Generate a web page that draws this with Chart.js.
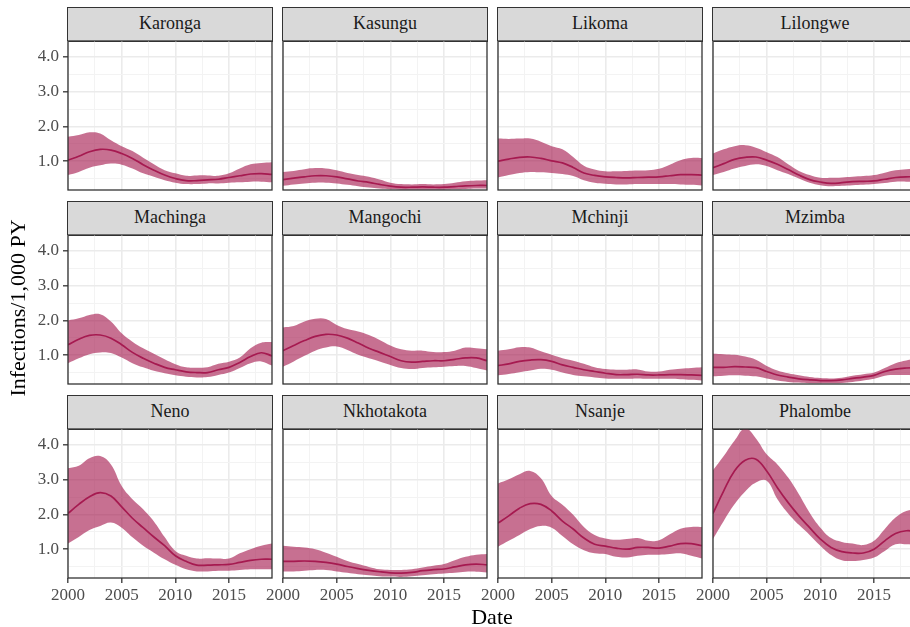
<!DOCTYPE html>
<html>
<head>
<meta charset="utf-8">
<script src="https://cdn.jsdelivr.net/npm/chart.js@4/dist/chart.umd.min.js"></script>
<style>
  html, body { margin: 0; padding: 0; background: #ffffff; overflow: hidden; }
  #fig { position: relative; width: 910px; height: 627px; overflow: hidden; font-family: 'Liberation Serif', serif; }
  #fig canvas { position: absolute; }
  .strip { position: absolute; box-sizing: border-box; background: #D9D9D9; border: 1.3px solid #333333;
           color: #1A1A1A; font-size: 18px; text-align: center; line-height: 31px; }
  .title { position: absolute; color: #000000; font-size: 22px; text-align: center; white-space: nowrap; }
</style>
</head>
<body>
<div id="fig"></div>
<script>
// Estimated HIV infections per 1,000 person-years, by district: median with 95% band
const years = [2000, 2001, 2002, 2003, 2004, 2005, 2006, 2007, 2008, 2009,
               2010, 2011, 2012, 2013, 2014, 2015, 2016, 2017, 2018, 2019];

const districts = ['Karonga', 'Kasungu', 'Likoma', 'Lilongwe',
                   'Machinga', 'Mangochi', 'Mchinji', 'Mzimba',
                   'Neno', 'Nkhotakota', 'Nsanje', 'Phalombe'];

const karongaLow  = [0.60,0.69,0.81,0.88,0.93,0.90,0.79,0.65,0.55,0.45,0.38,0.34,0.34,0.36,0.36,0.38,0.39,0.41,0.41,0.39];
const karongaMid  = [1.03,1.14,1.27,1.34,1.32,1.22,1.08,0.90,0.74,0.60,0.50,0.44,0.44,0.46,0.48,0.53,0.58,0.63,0.64,0.62];
const karongaHigh = [1.70,1.75,1.83,1.80,1.60,1.43,1.29,1.10,0.91,0.74,0.65,0.58,0.59,0.59,0.58,0.65,0.79,0.91,0.95,0.97];

const kasunguLow  = [0.29,0.33,0.36,0.38,0.38,0.36,0.32,0.28,0.24,0.21,0.19,0.18,0.18,0.18,0.18,0.18,0.19,0.20,0.21,0.21];
const kasunguMid  = [0.47,0.51,0.55,0.58,0.58,0.55,0.49,0.43,0.39,0.33,0.28,0.25,0.25,0.26,0.25,0.25,0.27,0.29,0.30,0.30];
const kasunguHigh = [0.69,0.72,0.77,0.80,0.79,0.74,0.66,0.60,0.55,0.47,0.38,0.34,0.33,0.34,0.33,0.34,0.38,0.42,0.44,0.45];

const likomaLow  = [0.53,0.60,0.66,0.69,0.68,0.66,0.63,0.57,0.45,0.38,0.35,0.33,0.33,0.34,0.34,0.34,0.34,0.33,0.32,0.30];
const likomaMid  = [1.00,1.06,1.11,1.12,1.08,1.01,0.95,0.82,0.66,0.59,0.55,0.53,0.52,0.53,0.54,0.55,0.58,0.61,0.61,0.60];
const likomaHigh = [1.65,1.64,1.65,1.65,1.56,1.43,1.34,1.12,0.87,0.76,0.71,0.71,0.72,0.73,0.74,0.78,0.90,1.03,1.09,1.09];

const lilongweLow  = [0.60,0.69,0.79,0.86,0.91,0.86,0.74,0.63,0.50,0.38,0.31,0.28,0.29,0.31,0.32,0.34,0.37,0.41,0.41,0.41];
const lilongweMid  = [0.81,0.93,1.05,1.11,1.12,1.03,0.91,0.76,0.60,0.47,0.40,0.36,0.38,0.41,0.42,0.43,0.48,0.53,0.55,0.55];
const lilongweHigh = [1.22,1.34,1.43,1.46,1.39,1.26,1.12,0.91,0.72,0.60,0.52,0.52,0.53,0.55,0.57,0.60,0.67,0.74,0.77,0.79];

const machingaLow  = [0.77,0.91,1.03,1.08,1.06,0.93,0.77,0.65,0.55,0.48,0.42,0.38,0.36,0.37,0.43,0.50,0.63,0.77,0.82,0.70];
const machingaMid  = [1.30,1.46,1.57,1.58,1.49,1.30,1.08,0.91,0.77,0.65,0.58,0.52,0.50,0.50,0.58,0.65,0.79,0.96,1.07,0.98];
const machingaHigh = [2.00,2.06,2.16,2.18,1.97,1.63,1.39,1.20,1.04,0.88,0.74,0.65,0.64,0.65,0.75,0.81,0.93,1.20,1.36,1.38];

const mangochiLow  = [0.67,0.82,0.98,1.13,1.22,1.25,1.15,1.01,0.91,0.82,0.72,0.63,0.60,0.63,0.65,0.67,0.69,0.69,0.63,0.56];
const mangochiMid  = [1.13,1.28,1.42,1.54,1.60,1.58,1.49,1.35,1.20,1.08,0.96,0.84,0.80,0.82,0.84,0.84,0.88,0.92,0.92,0.84];
const mangochiHigh = [1.80,1.84,1.97,2.05,2.04,1.87,1.75,1.68,1.58,1.44,1.28,1.17,1.13,1.13,1.09,1.09,1.13,1.22,1.20,1.17];

const mchinjiLow  = [0.42,0.46,0.51,0.56,0.61,0.58,0.50,0.43,0.39,0.36,0.33,0.32,0.32,0.33,0.32,0.32,0.32,0.31,0.29,0.27];
const mchinjiMid  = [0.70,0.75,0.82,0.86,0.87,0.82,0.72,0.65,0.58,0.53,0.48,0.44,0.44,0.45,0.43,0.43,0.44,0.44,0.43,0.42];
const mchinjiHigh = [1.13,1.17,1.23,1.22,1.11,1.01,0.91,0.84,0.75,0.65,0.60,0.58,0.58,0.59,0.53,0.53,0.58,0.61,0.63,0.65];

const mzimbaLow  = [0.39,0.41,0.42,0.41,0.39,0.33,0.27,0.23,0.21,0.19,0.19,0.19,0.20,0.23,0.27,0.32,0.41,0.43,0.43,0.42];
const mzimbaMid  = [0.65,0.65,0.67,0.66,0.64,0.53,0.43,0.37,0.32,0.29,0.27,0.27,0.29,0.33,0.37,0.42,0.53,0.60,0.63,0.64];
const mzimbaHigh = [1.04,1.03,1.01,0.96,0.87,0.69,0.56,0.48,0.42,0.37,0.34,0.33,0.35,0.41,0.45,0.50,0.63,0.77,0.85,0.88];

const nenoLow  = [1.16,1.35,1.55,1.67,1.77,1.62,1.34,1.10,0.90,0.71,0.55,0.42,0.36,0.36,0.38,0.38,0.40,0.42,0.42,0.42];
const nenoMid  = [2.03,2.29,2.51,2.63,2.53,2.22,1.89,1.62,1.35,1.10,0.81,0.65,0.54,0.54,0.55,0.56,0.62,0.68,0.71,0.71];
const nenoHigh = [3.33,3.40,3.62,3.68,3.44,2.82,2.44,2.15,1.80,1.35,0.95,0.81,0.73,0.74,0.73,0.73,0.88,1.00,1.10,1.16];

const nkhotakotaLow  = [0.36,0.36,0.38,0.40,0.40,0.36,0.32,0.28,0.25,0.22,0.21,0.20,0.22,0.25,0.28,0.30,0.32,0.35,0.35,0.33];
const nkhotakotaMid  = [0.65,0.65,0.66,0.65,0.62,0.57,0.50,0.44,0.39,0.35,0.32,0.31,0.33,0.38,0.41,0.43,0.49,0.55,0.57,0.55];
const nkhotakotaHigh = [1.10,1.07,1.05,1.00,0.90,0.78,0.66,0.57,0.49,0.42,0.40,0.40,0.42,0.47,0.52,0.57,0.68,0.78,0.84,0.86];

const nsanjeLow  = [1.07,1.24,1.41,1.58,1.67,1.62,1.38,1.14,0.97,0.88,0.86,0.78,0.76,0.81,0.84,0.84,0.86,0.88,0.81,0.73];
const nsanjeMid  = [1.75,1.96,2.18,2.31,2.29,2.10,1.81,1.58,1.32,1.14,1.09,1.03,1.00,1.05,1.05,1.03,1.09,1.16,1.16,1.10];
const nsanjeHigh = [2.89,3.01,3.16,3.25,3.04,2.53,2.28,1.99,1.64,1.41,1.31,1.27,1.29,1.32,1.24,1.26,1.43,1.59,1.64,1.64];

const phalombeLow  = [1.29,1.81,2.29,2.66,2.92,2.97,2.44,2.03,1.70,1.41,1.10,0.83,0.68,0.66,0.69,0.76,0.95,1.14,1.14,1.12];
const phalombeMid  = [2.03,2.68,3.25,3.56,3.59,3.25,2.77,2.34,1.96,1.62,1.29,1.05,0.93,0.89,0.89,1.00,1.24,1.45,1.53,1.51];
const phalombeHigh = [3.27,3.68,4.12,4.48,4.19,3.73,3.44,3.06,2.58,2.05,1.62,1.32,1.21,1.16,1.12,1.24,1.58,1.91,2.10,2.15];

const bands = {
  Karonga:    [karongaLow, karongaMid, karongaHigh],
  Kasungu:    [kasunguLow, kasunguMid, kasunguHigh],
  Likoma:     [likomaLow, likomaMid, likomaHigh],
  Lilongwe:   [lilongweLow, lilongweMid, lilongweHigh],
  Machinga:   [machingaLow, machingaMid, machingaHigh],
  Mangochi:   [mangochiLow, mangochiMid, mangochiHigh],
  Mchinji:    [mchinjiLow, mchinjiMid, mchinjiHigh],
  Mzimba:     [mzimbaLow, mzimbaMid, mzimbaHigh],
  Neno:       [nenoLow, nenoMid, nenoHigh],
  Nkhotakota: [nkhotakotaLow, nkhotakotaMid, nkhotakotaHigh],
  Nsanje:     [nsanjeLow, nsanjeMid, nsanjeHigh],
  Phalombe:   [phalombeLow, phalombeMid, phalombeHigh]
};

// Axis breaks (major ones carry labels, half-steps are minor grid lines)
const xTicks = [2000, 2002.5, 2005, 2007.5, 2010, 2012.5, 2015, 2017.5];
const xLabelled = [2000, 2005, 2010, 2015];
const yTicks = [0.5, 1, 1.5, 2, 2.5, 3, 3.5, 4];
const yLabelled = [1, 2, 3, 4];
const xRange = [2000, 2019];
const yRange = [0.17, 4.46];

const yTitle = 'Infections/1,000 PY';
const xTitle = 'Date';

// ---- layout of the facet grid (pixels) ----
const fig = document.getElementById('fig');
const plotLefts = [68, 283, 498, 713];
const plotTops = [41, 235, 429];
const plotW = 204, plotH = 149, stripH = 34;
const PAD = 3;

const FONT = "'Liberation Serif', serif";
const ribbonColor = 'rgba(165, 25, 78, 0.62)';
const lineColor = 'rgb(168, 30, 86)';
const gridMajor = '#EBEBEB', gridMinor = '#F3F3F3';

const panelFrame = {
  id: 'panelFrame',
  afterDraw(chart) {
    const { ctx, chartArea: a } = chart;
    ctx.save();
    ctx.strokeStyle = '#333333';
    ctx.lineWidth = 1.3;
    ctx.strokeRect(a.left, a.top, a.right - a.left, a.bottom - a.top);
    ctx.restore();
  }
};

const toPoints = arr => years.map((x, i) => ({ x, y: arr[i] }));
const isMajor = (v, list) => list.some(m => Math.abs(m - v) < 1e-6);

districts.forEach((name, i) => {
  const row = Math.floor(i / 4), col = i % 4;
  const [low, mid, high] = bands[name];
  const firstCol = col === 0;
  const bottomRow = row === 2;
  const L = firstCol ? 68 : 25;
  const B = bottomRow ? 40 : PAD;

  // facet strip
  const strip = document.createElement('div');
  strip.className = 'strip';
  strip.style.left = (plotLefts[col] - 0.6) + 'px';
  strip.style.top = (plotTops[row] - stripH) + 'px';
  strip.style.width = (plotW + 1.3) + 'px';
  strip.style.height = (stripH + 0.6) + 'px';
  strip.textContent = name;
  fig.appendChild(strip);

  // panel canvas
  const cv = document.createElement('canvas');
  const cw = L + plotW + PAD, ch = PAD + plotH + B;
  cv.width = cw; cv.height = ch;
  cv.style.width = cw + 'px'; cv.style.height = ch + 'px';
  cv.style.left = (plotLefts[col] - L) + 'px';
  cv.style.top = (plotTops[row] - PAD) + 'px';
  fig.appendChild(cv);

  new Chart(cv, {
    type: 'line',
    data: {
      datasets: [
        { data: toPoints(low), borderColor: 'rgba(0,0,0,0)', borderWidth: 0, pointRadius: 0, fill: false },
        { data: toPoints(high), borderColor: 'rgba(0,0,0,0)', borderWidth: 0, pointRadius: 0,
          fill: '-1', backgroundColor: ribbonColor },
        { data: toPoints(mid), borderColor: lineColor, borderWidth: 1.7, pointRadius: 0, fill: false }
      ]
    },
    options: {
      responsive: false,
      animation: false,
      events: [],
      layout: { padding: { top: PAD, right: PAD, bottom: 0, left: 0 } },
      elements: { line: { tension: 0.4 } },
      plugins: { legend: { display: false }, tooltip: { enabled: false } },
      scales: {
        x: {
          type: 'linear',
          min: xRange[0], max: xRange[1],
          afterBuildTicks: s => { s.ticks = xTicks.map(v => ({ value: v })); },
          afterFit: s => { s.height = B; s.paddingLeft = 0; s.paddingRight = 0; },
          border: { display: false },
          grid: {
            drawTicks: bottomRow,
            tickLength: 5,
            tickWidth: 1.3,
            tickColor: c => (c.tick && isMajor(c.tick.value, xLabelled)) ? '#333333' : 'rgba(0,0,0,0)',
            color: c => (c.tick && isMajor(c.tick.value, xLabelled)) ? gridMajor : gridMinor,
            lineWidth: c => (c.tick && isMajor(c.tick.value, xLabelled)) ? 1.6 : 1
          },
          ticks: {
            display: bottomRow,
            autoSkip: false,
            maxRotation: 0,
            padding: 2,
            color: '#4D4D4D',
            font: { family: FONT, size: 17 },
            callback: v => isMajor(v, xLabelled) ? String(Math.round(v)) : ''
          }
        },
        y: {
          min: yRange[0], max: yRange[1],
          afterBuildTicks: s => { s.ticks = yTicks.map(v => ({ value: v })); },
          afterFit: s => { s.width = L; s.paddingTop = 0; s.paddingBottom = 0; },
          border: { display: false },
          grid: {
            drawTicks: firstCol,
            tickLength: 5,
            tickWidth: 1.3,
            tickColor: c => (c.tick && isMajor(c.tick.value, yLabelled)) ? '#333333' : 'rgba(0,0,0,0)',
            color: c => (c.tick && isMajor(c.tick.value, yLabelled)) ? gridMajor : gridMinor,
            lineWidth: c => (c.tick && isMajor(c.tick.value, yLabelled)) ? 1.6 : 1
          },
          ticks: {
            display: firstCol,
            autoSkip: false,
            padding: 4,
            color: '#4D4D4D',
            font: { family: FONT, size: 17 },
            callback: v => isMajor(v, yLabelled) ? v.toFixed(1) : ''
          }
        }
      }
    },
    plugins: [panelFrame]
  });
});

// axis titles
const xt = document.createElement('div');
xt.className = 'title';
xt.textContent = xTitle;
xt.style.left = (492 - 100) + 'px';
xt.style.width = '200px';
xt.style.top = '604px';
xt.style.lineHeight = '26px';
fig.appendChild(xt);

const yt = document.createElement('div');
yt.className = 'title';
yt.textContent = yTitle;
yt.style.width = '300px';
yt.style.lineHeight = '26px';
yt.style.height = '26px';
yt.style.left = (18 - 150) + 'px';
yt.style.top = (308 - 13) + 'px';
yt.style.transform = 'rotate(-90deg)';
fig.appendChild(yt);
</script>
</body>
</html>
